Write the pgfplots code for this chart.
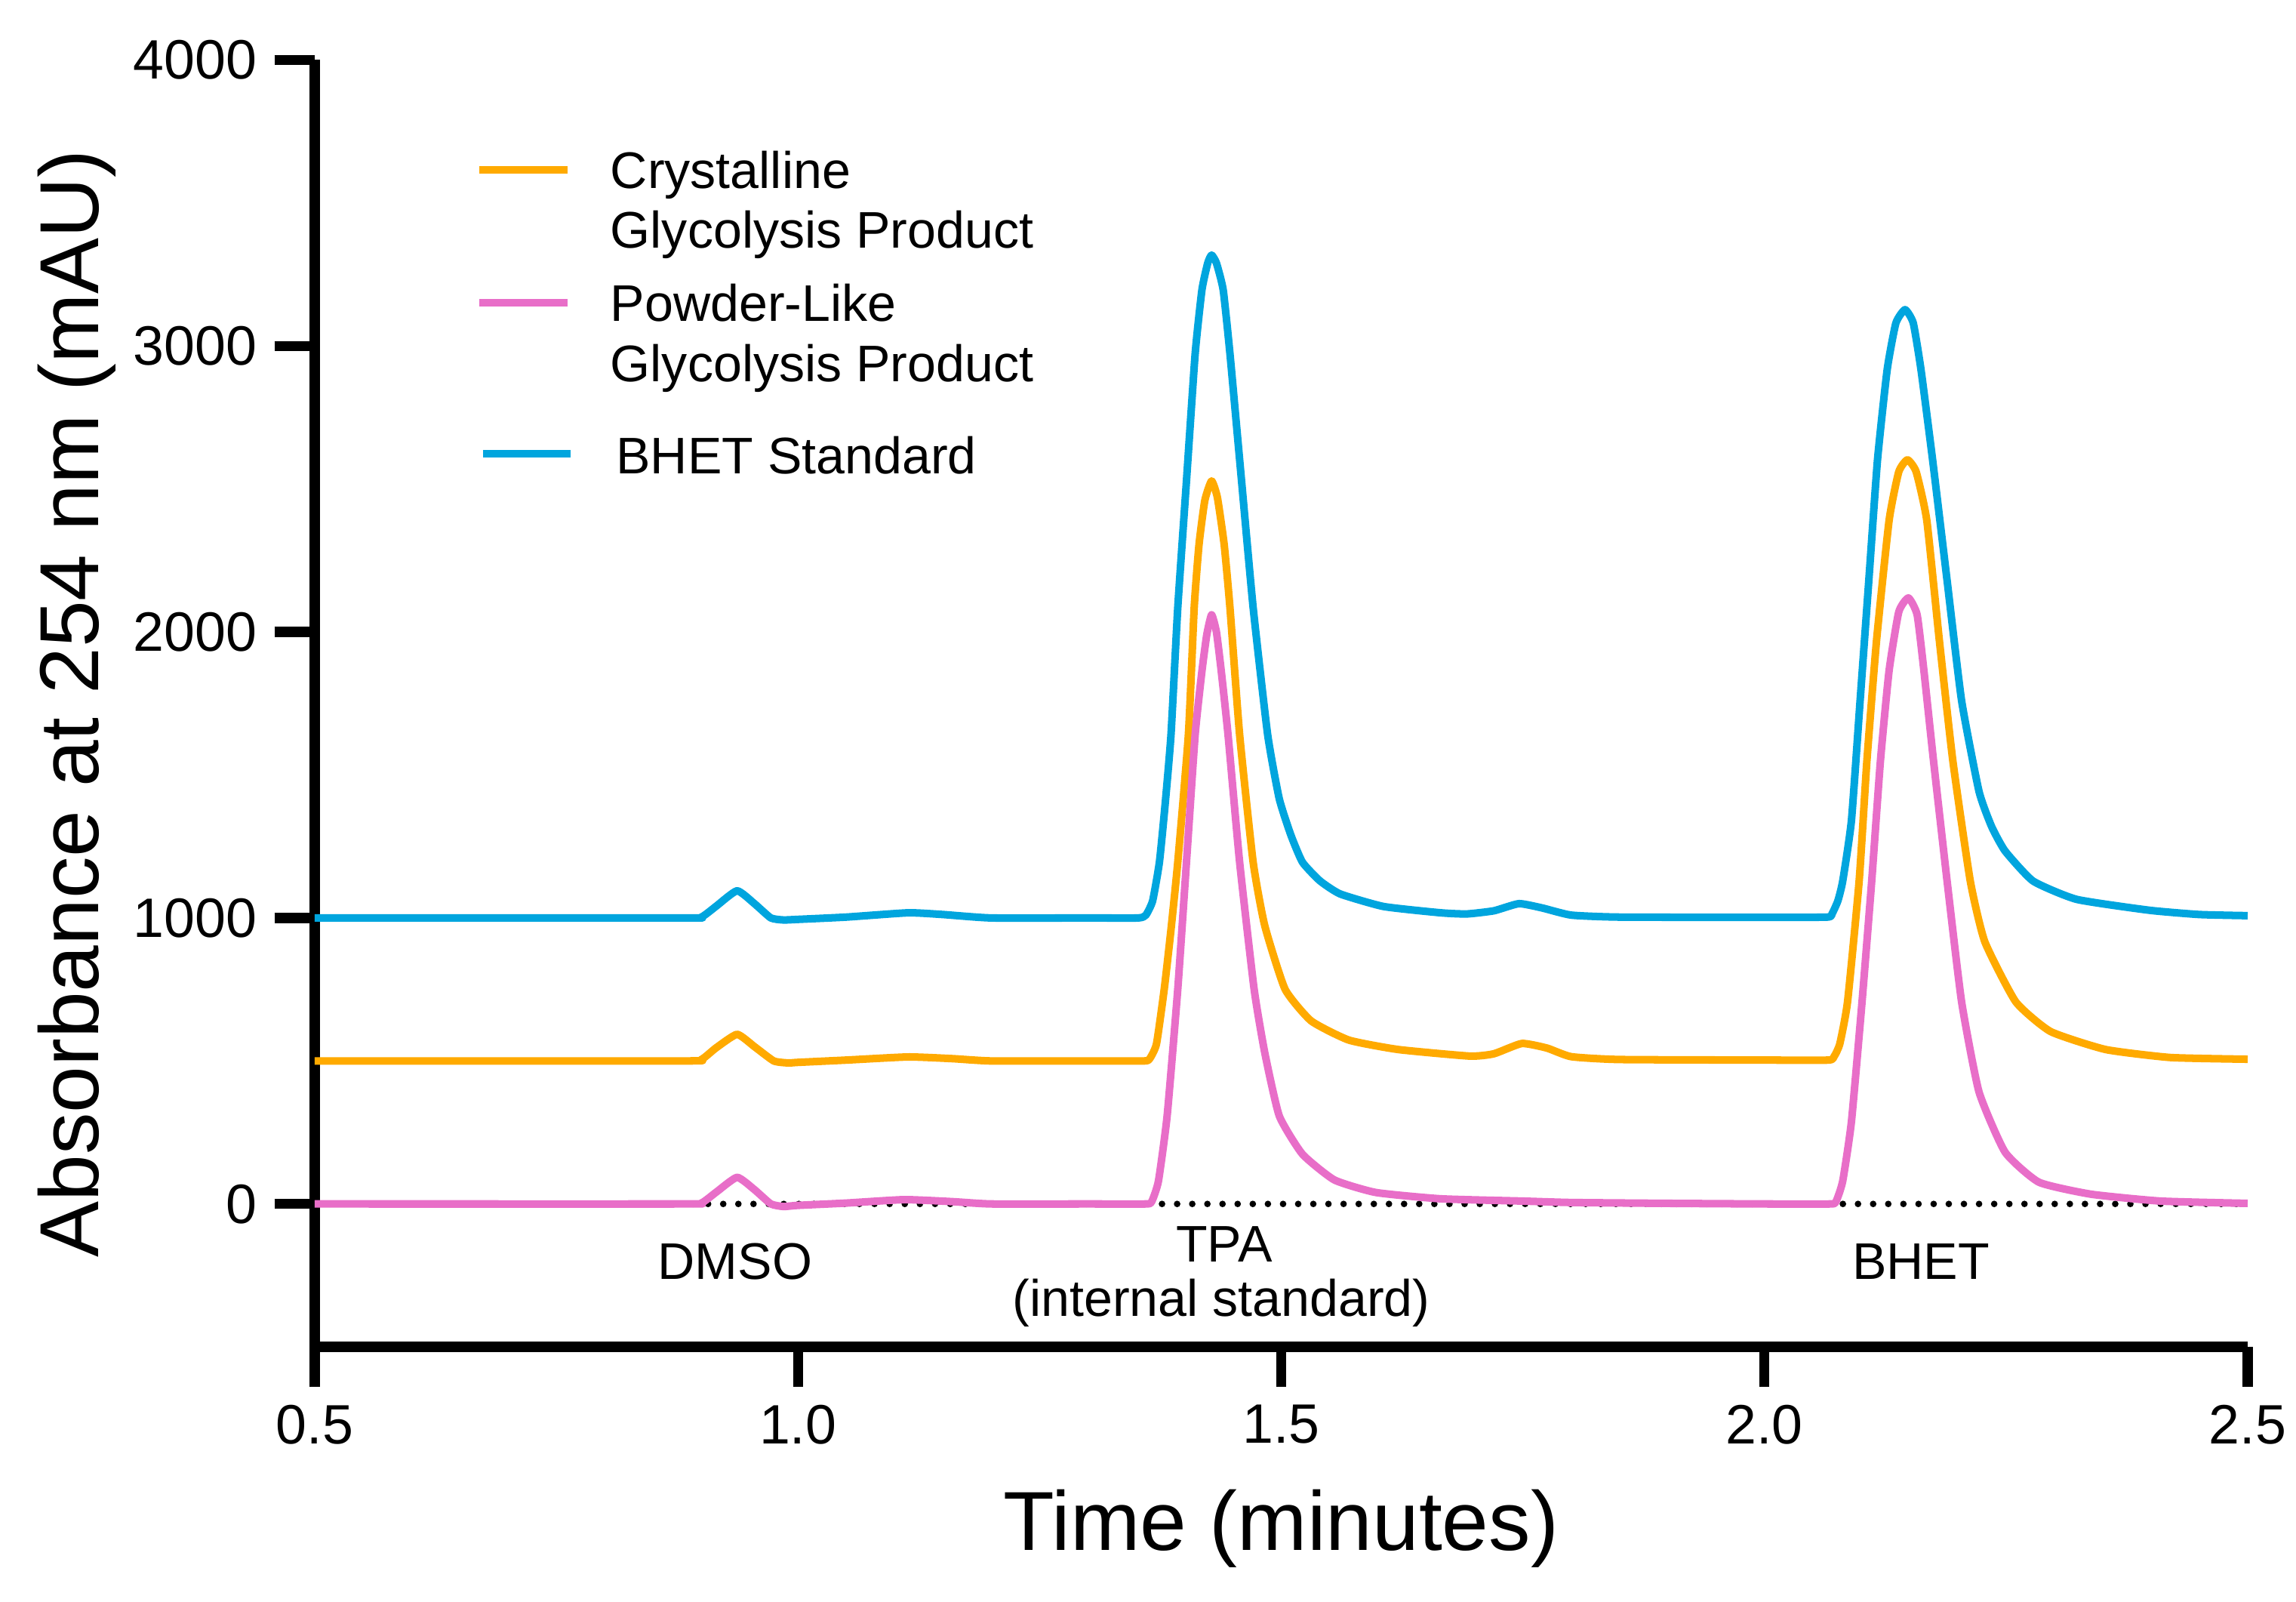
\documentclass[border=0pt]{standalone}
\usepackage{pgfplots}
\pgfplotsset{compat=1.18}
\usepackage{fontspec}
\setmainfont{Liberation Sans}
\definecolor{corange}{RGB}{255,170,0}
\definecolor{cpink}{RGB}{232,110,200}
\definecolor{cblue}{RGB}{0,165,222}
\begin{document}
\begin{tikzpicture}
\path[use as bounding box] (-2.193,-1.772) rectangle (13.807,9.384);
\begin{axis}[
  at={(0,0)}, anchor=south west,
  scale only axis, width=13.470cm, height=8.966cm,
  xmin=0.5, xmax=2.5, ymin=-500, ymax=4000,
  axis lines=left,
  axis line style={-, line width=2pt, black},
  xtick={0.5,1.0,1.5,2.0,2.5},
  ytick={0,1000,2000,3000,4000},
  tick align=outside,
  major tick length=0.28cm,
  tick style={line width=2pt, black},
  /pgf/number format/assume math mode=true,
  xticklabel style={font=\fontsize{11}{13}\selectfont, /pgf/number format/.cd, fixed, fixed zerofill, precision=1},
  yticklabel style={font=\fontsize{11}{13}\selectfont, /pgf/number format/.cd, 1000 sep={}},
  xlabel={Time (minutes)},
  ylabel={Absorbance at 254 nm (mAU)},
  xlabel style={font=\fontsize{16.6}{20}\selectfont, at={(axis description cs:0.5,-0.141)}, anchor=center},
  ylabel style={font=\fontsize{16.6}{20}\selectfont, at={(axis description cs:-0.123,0.5)}, anchor=center, rotate=0},
  clip=false,
  every axis plot/.append style={line join=round, smooth, tension=0.3},
]
% dotted zero line
\addplot[black, line width=1.3pt, line cap=round, dash pattern=on 0pt off 3pt, sharp plot] coordinates {(0.5,0) (2.5,0)};
% BHET Standard
\addplot[cblue, line width=1.5pt] coordinates {
(0.50,1000) (0.88,1000) (0.90,1003) (0.915,1040) (0.937,1095) (0.955,1050) (0.972,1000) (0.985,993) (1.00,995) (1.05,1003) (1.114,1018) (1.15,1012) (1.20,1000) (1.30,1000) (1.352,1000) (1.360,1010) (1.367,1060) (1.374,1195) (1.380,1400) (1.386,1641) (1.393,2085) (1.402,2528) (1.411,2973) (1.418,3196) (1.424,3290) (1.428,3318) (1.433,3290) (1.440,3196) (1.447,2973) (1.459,2528) (1.471,2085) (1.486,1641) (1.498,1417) (1.510,1290) (1.522,1195) (1.540,1130) (1.561,1084) (1.606,1040) (1.665,1018) (1.692,1014) (1.72,1025) (1.746,1050) (1.77,1035) (1.80,1010) (1.85,1003) (2.00,1002) (2.065,1003) (2.070,1015) (2.076,1060) (2.081,1129) (2.090,1340) (2.099,1760) (2.108,2180) (2.117,2602) (2.127,2917) (2.136,3080) (2.1455,3127) (2.154,3080) (2.162,2917) (2.174,2602) (2.189,2180) (2.204,1760) (2.222,1443) (2.235,1320) (2.249,1234) (2.278,1129) (2.323,1065) (2.398,1027) (2.45,1012) (2.50,1008)
};
% Crystalline
\addplot[corange, line width=1.5pt] coordinates {
(0.50,500) (0.88,500) (0.90,505) (0.915,545) (0.937,593) (0.955,550) (0.975,500) (0.99,493) (1.00,495) (1.05,503) (1.114,514) (1.16,508) (1.20,500) (1.30,500) (1.358,500) (1.364,508) (1.371,560) (1.379,751) (1.386,960) (1.393,1195) (1.404,1641) (1.410,2085) (1.415,2306) (1.421,2460) (1.428,2528) (1.434,2470) (1.441,2306) (1.447,2085) (1.457,1641) (1.471,1195) (1.483,973) (1.504,751) (1.531,640) (1.570,573) (1.621,540) (1.695,517) (1.72,525) (1.749,561) (1.775,545) (1.80,515) (1.85,505) (2.00,503) (2.066,503) (2.072,515) (2.078,560) (2.086,707) (2.098,1129) (2.106,1548) (2.116,1970) (2.129,2390) (2.139,2560) (2.148,2602) (2.157,2560) (2.168,2390) (2.181,1970) (2.195,1548) (2.213,1129) (2.228,917) (2.260,707) (2.296,603) (2.353,540) (2.42,512) (2.50,506)
};
% Powder-Like
\addplot[cpink, line width=1.5pt] coordinates {
(0.50,0) (0.88,0) (0.90,3) (0.915,40) (0.937,93) (0.955,50) (0.972,0) (0.985,-9) (1.00,-5) (1.05,3) (1.11,15) (1.16,8) (1.20,0) (1.30,0) (1.360,0) (1.366,8) (1.373,80) (1.382,308) (1.393,751) (1.402,1195) (1.411,1641) (1.418,1863) (1.423,1990) (1.428,2060) (1.433,2000) (1.438,1863) (1.445,1641) (1.457,1195) (1.472,751) (1.483,529) (1.498,308) (1.522,174) (1.555,84) (1.598,40) (1.665,18) (1.75,10) (1.80,5) (1.90,2) (2.00,0) (2.068,0) (2.074,8) (2.081,80) (2.090,287) (2.101,707) (2.111,1129) (2.120,1548) (2.129,1865) (2.139,2070) (2.149,2119) (2.158,2060) (2.165,1865) (2.175,1548) (2.189,1129) (2.204,707) (2.222,392) (2.249,181) (2.284,76) (2.338,34) (2.41,10) (2.50,2)
};
% legend
\draw[corange, line width=1.5pt] (axis cs:0.670,3616) -- (axis cs:0.762,3616);
\draw[cpink, line width=1.5pt] (axis cs:0.670,3150) -- (axis cs:0.762,3150);
\draw[cblue, line width=1.5pt] (axis cs:0.674,2622) -- (axis cs:0.765,2622);
\begin{scope}[every node/.style={font=\fontsize{10.2}{12}\selectfont, inner sep=0pt}]
\node[anchor=base west] at (axis cs:0.805,3552) {Crystalline};
\node[anchor=base west] at (axis cs:0.805,3342) {Glycolysis Product};
\node[anchor=base west] at (axis cs:0.805,3086) {Powder-Like};
\node[anchor=base west] at (axis cs:0.805,2876) {Glycolysis Product};
\node[anchor=base west] at (axis cs:0.811,2553) {BHET Standard};
\node[anchor=base] at (axis cs:0.935,-264) {DMSO};
\node[anchor=base] at (axis cs:1.441,-202) {TPA};
\node[anchor=base] at (axis cs:1.438,-392) {(internal standard)};
\node[anchor=base] at (axis cs:2.162,-264) {BHET};
\end{scope}
\end{axis}
\end{tikzpicture}
\end{document}
